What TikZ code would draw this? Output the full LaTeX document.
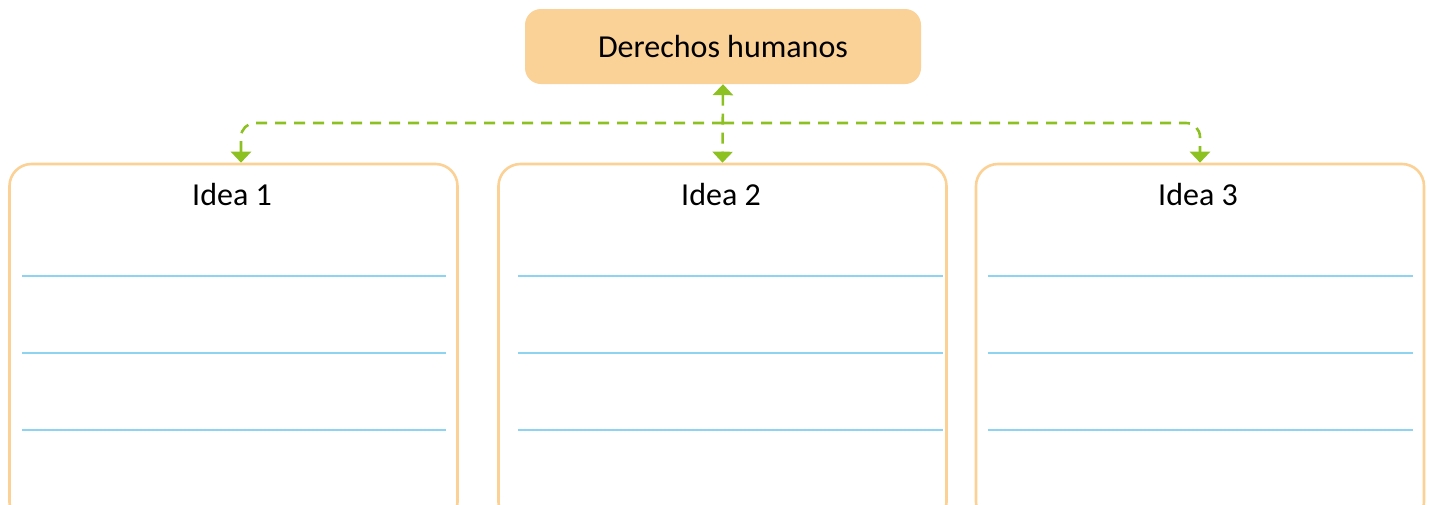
\documentclass[tikz,border=0pt]{standalone}
\usepackage{fontspec}
\setmainfont{Carlito}
\usetikzlibrary{arrows.meta}
\definecolor{peach}{HTML}{FAD196}
\definecolor{peachline}{HTML}{FBD196}
\definecolor{leaf}{HTML}{8CC121}
\definecolor{sky}{HTML}{8ED4F2}
\begin{document}
\begin{tikzpicture}[
  x=1pt, y=-1pt,
  title/.style={rectangle, rounded corners=16pt, fill=peach, minimum width=396pt, minimum height=75pt, inner sep=0pt, font=\fontsize{32}{38}\selectfont},
  ideabox/.style={rectangle, rounded corners=22pt, draw=peachline, line width=2.6pt, minimum width=448pt, minimum height=360pt, inner sep=0pt},
  ideatext/.style={inner sep=0pt, font=\fontsize{32}{38}\selectfont},
  link/.style={draw=leaf, line width=2.6pt, dash pattern=on 11pt off 8pt, arrows={-Triangle[length=11pt, width=20pt]}},
  rule/.style={draw=sky, line width=1.3pt}
]
  \useasboundingbox (0,0) rectangle (1430,504);

  \node[title] (dh) at (723, 46.5) {Derechos humanos};

  \node[ideabox] (b1) at (233.5, 344) {};
  \node[ideabox] (b2) at (722.5, 344) {};
  \node[ideabox] (b3) at (1200, 344) {};

  \node[ideatext] (t1) at (232, 195) {Idea 1};
  \node[ideatext] (t2) at (721, 195) {Idea 2};
  \node[ideatext] (t3) at (1198, 195) {Idea 3};

  \coordinate (hub) at (723, 123);

  \draw[link, {Triangle[length=11pt, width=20pt]}-{Triangle[length=11pt, width=20pt]}] (dh.south) -- (b2.north);
  \draw[link, rounded corners=14pt] (hub) -| ([xshift=7.5pt]b1.north);
  \draw[link, rounded corners=14pt] (hub) -| (b3.north);

  \foreach \y in {276, 353, 430} {
    \draw[rule] (22, \y) -- (446, \y);
    \draw[rule] (518, \y) -- (943, \y);
    \draw[rule] (988, \y) -- (1413, \y);
  }
\end{tikzpicture}
\end{document}
